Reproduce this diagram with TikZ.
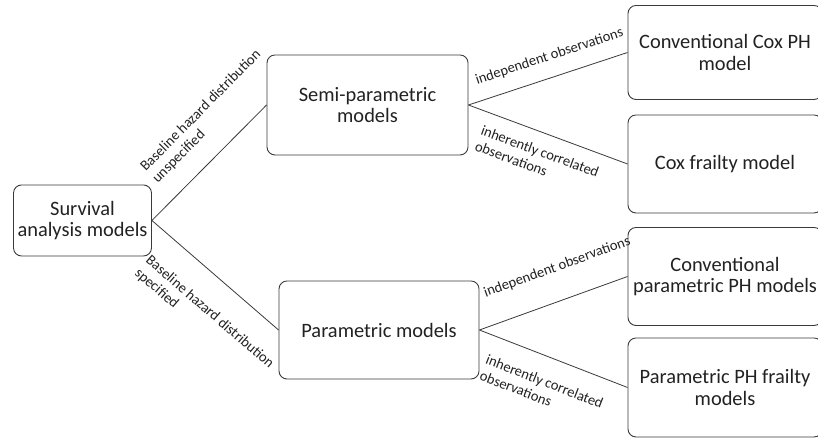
\documentclass[tikz,border=0pt]{standalone}
\usepackage{fontspec}
\setmainfont{Carlito}
\usetikzlibrary{positioning}
\definecolor{ink}{HTML}{222222}
\definecolor{edgegray}{HTML}{3A3A3A}
\tikzset{
  every node/.style={text=ink},
  model/.style={draw=edgegray,line width=0.9pt,rounded corners=8pt,fill=white,align=center,inner sep=4pt,font=\fontsize{20.5}{21.5}\selectfont},
  leaf/.style={model,minimum width=194bp},
  link/.style={draw=edgegray,line width=0.8pt},
  cond/.style={font=\fontsize{14.6}{17}\selectfont,align=left,sloped,inner sep=0pt}
}

\begin{document}
\begin{tikzpicture}[x=1bp,y=1bp]
  \fill[white] (0,0) rectangle (818,439);
  \useasboundingbox (0,0) rectangle (818,439);
  % root and the two families
  \node[model,minimum width=137bp,minimum height=71bp] (surv) at (82.5,218.5) {Survival\\analysis models};
  \node[model,minimum width=201bp,minimum height=100bp] (semi) at (367.5,334) {Semi-parametric\\models};
  \node[model,minimum width=200bp,minimum height=98bp] (param) at (379,109) {Parametric models};
  % leaves (cut at the right edge)
  \node[leaf,minimum height=94bp] (coxph) at (725,386.5) {Conventional Cox PH\\model};
  \node[leaf,minimum height=98bp] (coxfr) at (725,275) {Cox frailty model};
  \node[leaf,minimum height=98bp] (parph) at (725,162.5) {Conventional\\parametric PH models};
  \node[leaf,minimum height=99bp] (parfr) at (725,51.5) {Parametric PH frailty\\models};
  \draw[link] (surv.east) -- node[cond,above=19bp,pos=0.69]{Baseline hazard distribution\\unspecified} (semi.west);
  \draw[link] (surv.east) -- node[cond,below=25bp,pos=0.62]{Baseline hazard distribution\\specified} (param.west);
  \draw[link] (semi.east) -- node[cond,above=14bp,pos=0.55]{independent observations} (coxph.west);
  \draw[link] (semi.east) -- node[cond,below=13bp,pos=0.49]{inherently correlated\\observations} (coxfr.west);
  \draw[link] (param.east) -- node[cond,above=26bp,pos=0.6]{independent observations} (parph.west);
  \draw[link] (param.east) -- node[cond,below=19bp,pos=0.5]{inherently correlated\\observations} (parfr.west);
\end{tikzpicture}
\end{document}
